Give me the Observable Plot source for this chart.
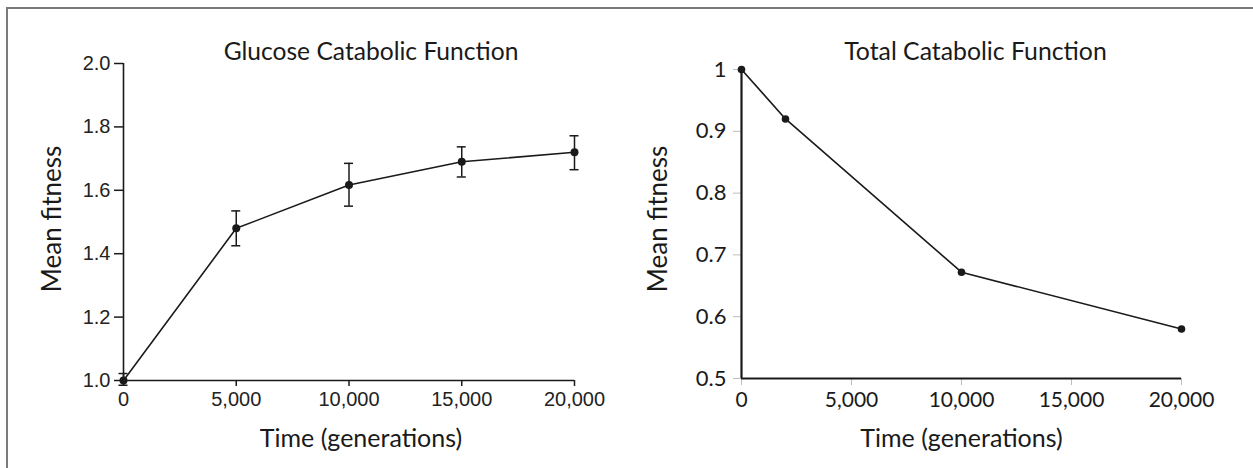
<!DOCTYPE html>
<html>
<head>
<meta charset="utf-8">
<script src="https://cdn.jsdelivr.net/npm/d3@7"></script>
<script src="https://cdn.jsdelivr.net/npm/@observablehq/plot@0.6"></script>
<style>
  html, body { margin: 0; padding: 0; background: #fff; }
  #wrap { position: relative; width: 1253px; height: 468px; overflow: hidden; background: #fff; }
  #frame { position: absolute; left: 6px; top: 7px; width: 1300px; height: 500px;
           border-top: 2px solid #7a7a7a; border-left: 2px solid #7a7a7a; }
  #p1 { position: absolute; left: 0; top: 0; }
  #p2 { position: absolute; left: 626px; top: 0; }
</style>
</head>
<body>
<div id="wrap"><div id="frame"></div><div id="p1"></div><div id="p2"></div></div>
<script>
// ---- Data ----
const glucoseGenerations = [0, 5000, 10000, 15000, 20000];
const glucoseFitness     = [1.0, 1.48, 1.617, 1.69, 1.72];
const glucoseLow         = [0.985, 1.425, 1.55, 1.642, 1.665];
const glucoseHigh        = [1.022, 1.535, 1.685, 1.737, 1.772];
const glucoseYTicks      = [1.0, 1.2, 1.4, 1.6, 1.8, 2.0];
const xTicks             = [0, 5000, 10000, 15000, 20000];

const totalGenerations = [0, 2000, 10000, 20000];
const totalFitness     = [1.0, 0.92, 0.672, 0.58];
const totalYTicks      = [0.5, 0.6, 0.7, 0.8, 0.9, 1.0];

const glucose = glucoseGenerations.map((g, i) => ({g, f: glucoseFitness[i], lo: glucoseLow[i], hi: glucoseHigh[i]}));
const total = totalGenerations.map((g, i) => ({g, f: totalFitness[i]}));

const calib = "Lato, 'Open Sans', sans-serif";
const arial = "'Liberation Sans', Arial, sans-serif";
const ink = "#1a1a1a";

// ---- Left panel ----
const p1 = Plot.plot({
  width: 626, height: 468,
  marginLeft: 123, marginRight: 52, marginTop: 63, marginBottom: 88,
  style: {fontFamily: arial, fontSize: "20px", color: ink, background: "transparent", overflow: "visible"},
  x: {domain: [0, 20000]},
  y: {domain: [1, 2]},
  marks: [
    Plot.axisY({ticks: glucoseYTicks, tickFormat: d3.format(".1f"), tickSize: 9, tickPadding: 4,
                fontSize: 20, fontFamily: arial, stroke: ink, strokeWidth: 1.5, label: null, fill: "#222"}),
    Plot.axisX({ticks: xTicks, tickFormat: d3.format(","), tickSize: 6, tickPadding: 5,
                fontSize: 20, fontFamily: arial, stroke: ink, strokeWidth: 1.5, label: null, fill: "#222"}),
    Plot.ruleX([0], {stroke: ink, strokeWidth: 1.6}),
    Plot.ruleY([1], {stroke: ink, strokeWidth: 1.6}),
    Plot.ruleX(glucose, {x: "g", y1: "lo", y2: "hi", stroke: ink, strokeWidth: 1.5}),
    Plot.ruleY(glucose, {y: "lo", x1: "g", x2: "g", insetLeft: -4.5, insetRight: -4.5, stroke: ink, strokeWidth: 1.5}),
    Plot.ruleY(glucose, {y: "hi", x1: "g", x2: "g", insetLeft: -4.5, insetRight: -4.5, stroke: ink, strokeWidth: 1.5}),
    Plot.line(glucose, {x: "g", y: "f", stroke: ink, strokeWidth: 1.6}),
    Plot.dot(glucose, {x: "g", y: "f", r: 4, fill: ink, stroke: "none"}),
    Plot.text(["Glucose Catabolic Function"], {frameAnchor: "top", textAnchor: "middle", dx: 22, dy: -4, fontSize: 24.6, fontFamily: calib, fill: ink, lineAnchor: "bottom"}),
    Plot.text(["Mean fitness"], {frameAnchor: "left", textAnchor: "middle", dx: -71, dy: -3, rotate: -90, fontSize: 26, fontFamily: calib, fill: ink, lineAnchor: "middle"}),
    Plot.text(["Time (generations)"], {frameAnchor: "bottom", textAnchor: "middle", dx: 12, dy: 58, fontSize: 25, fontFamily: calib, fill: ink, lineAnchor: "middle"})
  ]
});
document.getElementById("p1").appendChild(p1);

// ---- Right panel ----
const p2 = Plot.plot({
  width: 627, height: 468,
  marginLeft: 115, marginRight: 72, marginTop: 69, marginBottom: 90,
  style: {fontFamily: calib, fontSize: "21px", color: ink, background: "transparent", overflow: "visible"},
  x: {domain: [0, 20000]},
  y: {domain: [0.5, 1]},
  marks: [
    Plot.axisY({ticks: totalYTicks, tickFormat: d => d === 1 ? "1" : d.toFixed(1), tickSize: 8, tickPadding: 7,
                fontSize: 22, fontFamily: calib, stroke: "#bdbdbd", strokeWidth: 1, label: null, fill: ink}),
    Plot.axisX({ticks: xTicks, tickFormat: d3.format(","), tickSize: 7, tickPadding: 7,
                fontSize: 21, fontFamily: calib, stroke: "#bdbdbd", strokeWidth: 1, label: null, fill: ink}),
    Plot.ruleX([0], {stroke: ink, strokeWidth: 2.2}),
    Plot.ruleY([0.5], {stroke: ink, strokeWidth: 2.2}),
    Plot.line(total, {x: "g", y: "f", stroke: ink, strokeWidth: 1.6}),
    Plot.dot(total, {x: "g", y: "f", r: 3.8, fill: ink, stroke: "none"}),
    Plot.text(["Total Catabolic Function"], {frameAnchor: "top", textAnchor: "middle", dx: 14, dy: -10, fontSize: 24.8, fontFamily: calib, fill: ink, lineAnchor: "bottom"}),
    Plot.text(["Mean fitness"], {frameAnchor: "left", textAnchor: "middle", dx: -83, dy: -5, rotate: -90, fontSize: 26, fontFamily: calib, fill: ink, lineAnchor: "middle"}),
    Plot.text(["Time (generations)"], {frameAnchor: "bottom", textAnchor: "middle", dx: 0, dy: 60, fontSize: 25, fontFamily: calib, fill: ink, lineAnchor: "middle"})
  ]
});
document.getElementById("p2").appendChild(p2);
</script>
</body>
</html>
